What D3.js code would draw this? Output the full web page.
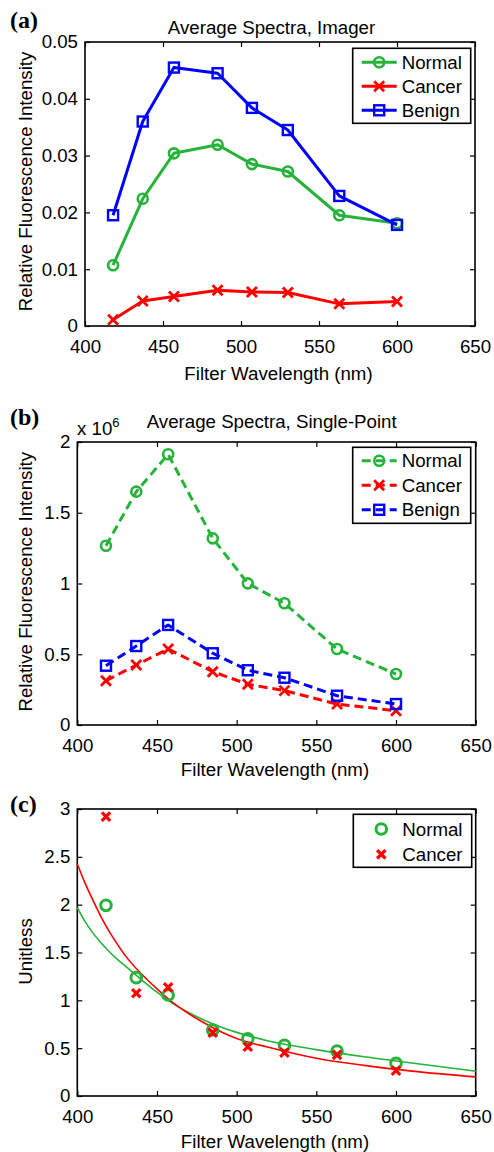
<!DOCTYPE html>
<html>
<head>
<meta charset="utf-8">
<script src="https://cdn.jsdelivr.net/npm/d3@7"></script>
<style>
  body { margin: 0; background: #fff; }
  svg text { font-family: "Liberation Sans", Arial, sans-serif; fill: #000; }
</style>
</head>
<body>
<svg id="chart" width="494" height="1152"></svg>
<script>
// filter wavelengths (nm)
const wavelength = [418, 437, 457, 485, 507, 530, 563, 600];

// (a) imager
const imagerNormal = [0.0107, 0.0224, 0.0304, 0.0319, 0.0285, 0.0272, 0.0195, 0.0181];
const imagerCancer = [0.0011, 0.0044, 0.0052, 0.0063, 0.0060, 0.0059, 0.0039, 0.0043];
const imagerBenign = [0.0195, 0.0360, 0.0455, 0.0445, 0.0384, 0.0345, 0.0229, 0.0178];

// (b) single-point
const pointNormal = [1.267e6, 1.649e6, 1.913e6, 1.319e6, 1.001e6, 0.860e6, 0.537e6, 0.360e6];
const pointCancer = [0.313e6, 0.424e6, 0.537e6, 0.377e6, 0.288e6, 0.243e6, 0.148e6, 0.101e6];
const pointBenign = [0.419e6, 0.558e6, 0.707e6, 0.507e6, 0.387e6, 0.334e6, 0.207e6, 0.148e6];

// (c) unitless ratio + fitted curves
const ratioNormal = [1.993, 1.237, 1.056, 0.690, 0.599, 0.530, 0.470, 0.342];
const ratioCancer = [2.920, 1.074, 1.136, 0.662, 0.515, 0.453, 0.430, 0.265];
const fitWavelength = [400, 405, 410, 415, 420, 425, 430, 440, 450, 460, 470, 480, 500, 520, 550, 580, 610, 650];
const fitNormal = [1.97, 1.82, 1.70, 1.60, 1.51, 1.43, 1.36, 1.22, 1.085, 0.965, 0.87, 0.79, 0.665, 0.575, 0.485, 0.41, 0.345, 0.26];
const fitCancer = [2.425, 2.22, 2.04, 1.87, 1.72, 1.59, 1.47, 1.28, 1.12, 0.975, 0.86, 0.76, 0.60, 0.51, 0.395, 0.32, 0.26, 0.20];

const xTicks = [400, 450, 500, 550, 600, 650];
const yTicksA = [0, 0.01, 0.02, 0.03, 0.04, 0.05];
const yTicksB = [0, 0.5e6, 1e6, 1.5e6, 2e6];
const yTicksC = [0, 0.5, 1, 1.5, 2, 2.5, 3];

const GREEN = "#25b33a", RED = "#ff0000", BLUE = "#0000ff";
const FS = 18.7;

const svg = d3.select("#chart");

function drawMarker(g, type, cx, cy, color, s, sw) {
  if (type === "o") {
    g.append("circle").attr("cx", cx).attr("cy", cy).attr("r", s)
      .attr("fill", "none").attr("stroke", color).attr("stroke-width", sw);
  } else if (type === "s") {
    g.append("rect").attr("x", cx - s).attr("y", cy - s)
      .attr("width", 2 * s).attr("height", 2 * s)
      .attr("fill", "none").attr("stroke", color).attr("stroke-width", sw);
  } else if (type === "x") {
    g.append("path")
      .attr("d", `M${cx - s},${cy - s}L${cx + s},${cy + s}M${cx - s},${cy + s}L${cx + s},${cy - s}`)
      .attr("stroke", color).attr("stroke-width", sw).attr("fill", "none");
  }
}

function panel(p) {
  const g = svg.append("g");
  const x = d3.scaleLinear().domain([400, 650]).range([p.left, p.right]);
  const y = d3.scaleLinear().domain(p.yDomain).range([p.bottom, p.top]);

  // axes, ticks pointing inside on all four sides
  const ax = (axis, tr) => {
    const a = g.append("g").attr("transform", tr).call(axis);
    a.select(".domain").remove();
    a.selectAll("line").attr("stroke", "#000").attr("stroke-width", 1.2);
    a.selectAll("text").style("font-size", FS + "px");
    return a;
  };
  ax(d3.axisBottom(x).tickValues(xTicks).tickSize(-5).tickPadding(14), `translate(0,${p.bottom})`);
  ax(d3.axisTop(x).tickValues(xTicks).tickSize(-5).tickFormat(""), `translate(0,${p.top})`);
  ax(d3.axisLeft(y).tickValues(p.yTicks).tickSize(-5).tickPadding(7).tickFormat(p.yFormat), `translate(${p.left},0)`);
  ax(d3.axisRight(y).tickValues(p.yTicks).tickSize(-5).tickFormat(""), `translate(${p.right},0)`);

  g.append("rect")
    .attr("x", p.left).attr("y", p.top)
    .attr("width", p.right - p.left).attr("height", p.bottom - p.top)
    .attr("fill", "none").attr("stroke", "#000").attr("stroke-width", 1.6);

  // fitted curves
  (p.curves || []).forEach(c => {
    g.append("path")
      .datum(c.values.map((v, i) => [fitWavelength[i], v]))
      .attr("d", d3.line().x(d => x(d[0])).y(d => y(d[1])).curve(d3.curveMonotoneX))
      .attr("fill", "none").attr("stroke", c.color).attr("stroke-width", 1.6);
  });

  // series
  p.series.forEach(s => {
    const pts = s.values.map((v, i) => [wavelength[i], v]);
    if (s.line) {
      g.append("path").datum(pts)
        .attr("d", d3.line().x(d => x(d[0])).y(d => y(d[1])))
        .attr("fill", "none").attr("stroke", s.color).attr("stroke-width", 3)
        .attr("stroke-linejoin", "round")
        .attr("stroke-dasharray", s.dash || null);
    }
    pts.forEach(d => drawMarker(g, s.marker, x(d[0]), y(d[1]), s.color, s.size, s.sw));
  });

  // legend
  const lg = p.legend;
  g.append("rect").attr("x", lg.x).attr("y", lg.y).attr("width", lg.w).attr("height", lg.h)
    .attr("fill", "#fff").attr("stroke", "#000").attr("stroke-width", 1.6);
  p.series.forEach((s, i) => {
    const cy = lg.y + lg.first + i * lg.step;
    if (s.line) {
      g.append("line").attr("x1", lg.x + 9).attr("x2", lg.x + 44).attr("y1", cy).attr("y2", cy)
        .attr("stroke", s.color).attr("stroke-width", 3).attr("stroke-dasharray", s.dash || null);
    }
    drawMarker(g, s.marker, lg.x + (s.line ? 26.5 : 28), cy, s.color, s.size, s.sw);
    g.append("text").attr("x", lg.x + 49).attr("y", cy + 6.6)
      .style("font-size", FS + "px").text(s.name);
  });

  // labels
  g.append("text").attr("x", p.titleX).attr("y", p.titleY)
    .attr("text-anchor", "middle").style("font-size", FS + "px").text(p.title || "");
  g.append("text").attr("x", (p.left + p.right) / 2 - 1.5).attr("y", p.xLabelY)
    .attr("text-anchor", "middle").style("font-size", FS + "px").text("Filter Wavelength (nm)");
  g.append("text").attr("transform", `translate(32,${p.yLabelMid}) rotate(-90)`)
    .attr("text-anchor", "middle").style("font-size", FS + "px").text(p.yLabel);
  g.append("text").attr("x", 10).attr("y", p.tagY)
    .style("font-family", "'Liberation Serif','Times New Roman',serif")
    .style("font-weight", "bold").style("font-size", "24px").text(p.tag);
  return { g, x, y };
}

// (a)
panel({
  left: 85, right: 475, top: 42, bottom: 326,
  yDomain: [0, 0.05], yTicks: yTicksA,
  yFormat: d => d === 0 ? "0" : d.toFixed(2),
  title: "Average Spectra, Imager", titleX: 271.5, titleY: 34, xLabelY: 380,
  yLabel: "Relative Fluorescence Intensity", yLabelMid: 181.5,
  tag: "(a)", tagY: 28,
  series: [
    { name: "Normal", values: imagerNormal, color: GREEN, marker: "o", size: 5, sw: 2.6, line: true },
    { name: "Cancer", values: imagerCancer, color: RED, marker: "x", size: 5, sw: 2.8, line: true },
    { name: "Benign", values: imagerBenign, color: BLUE, marker: "s", size: 5, sw: 2.4, line: true }
  ],
  legend: { x: 352.7, y: 48.3, w: 118, h: 75, first: 14, step: 24 }
});

// (b)
const pb = panel({
  left: 77.3, right: 475.7, top: 442, bottom: 725,
  yDomain: [0, 2e6], yTicks: yTicksB,
  yFormat: d => String(d / 1e6),
  title: "Average Spectra, Single-Point", titleX: 271.7, titleY: 428, xLabelY: 776,
  yLabel: "Relative Fluorescence Intensity", yLabelMid: 581.7,
  tag: "(b)", tagY: 425,
  series: [
    { name: "Normal", values: pointNormal, color: GREEN, marker: "o", size: 5, sw: 2.6, line: true, dash: "9,5" },
    { name: "Cancer", values: pointCancer, color: RED, marker: "x", size: 5, sw: 2.8, line: true, dash: "9,5" },
    { name: "Benign", values: pointBenign, color: BLUE, marker: "s", size: 5, sw: 2.4, line: true, dash: "9,5" }
  ],
  legend: { x: 352.7, y: 447.3, w: 118, h: 76, first: 13.5, step: 24.5 }
});
const exp = pb.g.append("text").attr("x", 77).attr("y", 435).style("font-size", FS + "px");
exp.append("tspan").text("x 10");
exp.append("tspan").attr("dy", -8).style("font-size", "13px").text("6");

// (c)
panel({
  left: 77.3, right: 475.7, top: 809, bottom: 1096,
  yDomain: [0, 3], yTicks: yTicksC,
  yFormat: d => String(d),
  title: "", titleX: 276, titleY: 800, xLabelY: 1148,
  yLabel: "Unitless", yLabelMid: 951.5,
  tag: "(c)", tagY: 812,
  curves: [
    { values: fitNormal, color: GREEN },
    { values: fitCancer, color: RED }
  ],
  series: [
    { name: "Normal", values: ratioNormal, color: GREEN, marker: "o", size: 5.3, sw: 3, line: false },
    { name: "Cancer", values: ratioCancer, color: RED, marker: "x", size: 4.2, sw: 3.2, line: false }
  ],
  legend: { x: 353.3, y: 814.3, w: 118.4, h: 53, first: 14.7, step: 25.3 }
});
</script>
</body>
</html>
